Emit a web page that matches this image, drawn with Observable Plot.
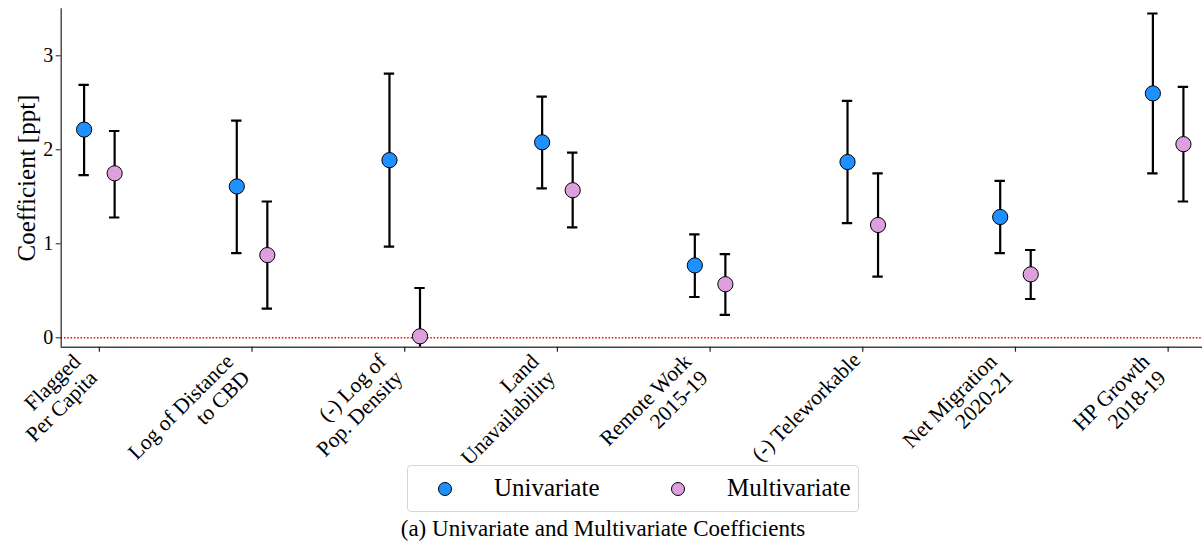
<!DOCTYPE html>
<html><head><meta charset="utf-8">
<script src="https://cdn.jsdelivr.net/npm/d3@7"></script>
<script src="https://cdn.jsdelivr.net/npm/@observablehq/plot@0.6"></script>
<style>
html,body{margin:0;padding:0;background:#fff;}
#wrap{position:relative;width:1202px;height:547px;font-family:"Liberation Serif","Times New Roman",serif;color:#000;}
#chart svg{display:block;}
.legend{position:absolute;left:407px;top:465px;width:452px;height:47px;box-sizing:border-box;border:1px solid #d6d6d6;border-radius:4px;background:#fff;}
.mk{position:absolute;width:14px;height:14px;border-radius:50%;border:1.2px solid #000;box-sizing:border-box;top:15.5px;}
.lt{position:absolute;top:7px;font-size:25px;line-height:30px;white-space:nowrap;}
.caption{position:absolute;left:0;width:1206px;text-align:center;top:515px;font-size:23px;line-height:28px;}
</style></head>
<body><div id="wrap"><div id="chart"></div>
<div class="legend" id="legend"></div>
<div class="caption" id="caption"></div></div>
<script>
// ---- data ----
const categories = ["Flagged\nPer Capita","Log of Distance\nto CBD","(-) Log of\nPop. Density","Land\nUnavailability","Remote Work\n2015-19","(-) Teleworkable","Net Migration\n2020-21","HP Growth\n2018-19"];
const univariate     = [2.215, 1.61, 1.89, 2.08, 0.77, 1.87, 1.285, 2.60];
const univariateLow  = [1.73, 0.90, 0.97, 1.59, 0.434, 1.22, 0.90, 1.75];
const univariateHigh = [2.69, 2.31, 2.81, 2.566, 1.10, 2.52, 1.67, 3.45];
const multivariate     = [1.75, 0.88, 0.016, 1.57, 0.57, 1.20, 0.675, 2.06];
const multivariateLow  = [1.28, 0.31, -0.49, 1.175, 0.243, 0.65, 0.413, 1.45];
const multivariateHigh = [2.20, 1.45, 0.53, 1.97, 0.89, 1.75, 0.934, 2.67];
const seriesNames  = ["Univariate","Multivariate"];
const seriesColors = ["#1e90ff","#dda0dd"];
const yTicks = [0, 1, 2, 3];
const yLabel = "Coefficient [ppt]";
const captionText = "(a) Univariate and Multivariate Coefficients";

// ---- table ----
const dodge = 0.1;
const rows = [];
categories.forEach((c, i) => {
  rows.push({i, series: seriesNames[0], x: i - dodge, v: univariate[i], lo: univariateLow[i], hi: univariateHigh[i]});
  rows.push({i, series: seriesNames[1], x: i + dodge, v: multivariate[i], lo: multivariateLow[i], hi: multivariateHigh[i]});
});
const idx = categories.map((c, i) => i);
const twoLine = idx.filter(i => categories[i].includes("\n"));
const oneLine = idx.filter(i => !categories[i].includes("\n"));
const capHalf = 0.034;
const labelOpts = {tickSize: 0, tickPadding: 0, tickRotate: -45, textAnchor: "end", lineAnchor: "bottom",
  fontSize: 21.5, lineHeight: 1.08, tickFormat: i => categories[i], fill: "#000", dx: -1, label: null};

const plot = Plot.plot({
  width: 1202, height: 462,
  marginLeft: 60.7, marginRight: 0, marginTop: 8.3, marginBottom: 115.3,
  style: {fontFamily: '"Liberation Serif", serif', background: "#fff", overflow: "visible"},
  x: {type: "linear", domain: [-0.25, 7.225], axis: null},
  y: {domain: [-0.1, 3.5], axis: null},
  color: {domain: seriesNames, range: seriesColors},
  marks: [
    Plot.ruleY([0], {stroke: "#ff0000", strokeWidth: 1.6, strokeDasharray: "1.5,1.8"}),
    Plot.ruleX(rows, {x: "x", y1: "lo", y2: "hi", stroke: "#000", strokeWidth: 2.2, clip: true}),
    Plot.ruleY(rows, {y: "hi", x1: d => d.x - capHalf, x2: d => d.x + capHalf, stroke: "#000", strokeWidth: 2.2, clip: true}),
    Plot.ruleY(rows, {y: "lo", x1: d => d.x - capHalf, x2: d => d.x + capHalf, stroke: "#000", strokeWidth: 2.2, clip: true}),
    Plot.dot(rows, {x: "x", y: "v", fill: "series", stroke: "#000", strokeWidth: 1, r: 7.6}),
    Plot.ruleX([-0.25], {stroke: "#333", strokeWidth: 1.3}),
    Plot.ruleY([-0.1], {stroke: "#444", strokeWidth: 1.6}),
    Plot.axisY({ticks: yTicks, tickSize: 5, tickPadding: 3, fontSize: 20, tickFormat: d => String(d), label: null, stroke: "#222"}),
    Plot.axisX({ticks: idx, tickSize: 5, tickFormat: () => "", stroke: "#222", strokeWidth: 1.2, label: null}),
    Plot.axisX({...labelOpts, ticks: twoLine, dy: 32}),
    Plot.axisX({...labelOpts, ticks: oneLine, dy: 14}),
    Plot.text([yLabel], {frameAnchor: "left", rotate: -90, dx: -34, fontSize: 25, textAnchor: "middle", lineAnchor: "middle", fill: "#000"})
  ]
});
document.getElementById("chart").appendChild(plot);

// legend
const lg = document.getElementById("legend");
const mkX = [30, 263], txX = [86, 319];
seriesNames.forEach((s, k) => {
  const m = document.createElement("div"); m.className = "mk"; m.style.left = mkX[k] + "px"; m.style.background = seriesColors[k]; lg.appendChild(m);
  const t = document.createElement("div"); t.className = "lt"; t.style.left = txX[k] + "px"; t.textContent = s; lg.appendChild(t);
});
document.getElementById("caption").textContent = captionText;
</script></body></html>
